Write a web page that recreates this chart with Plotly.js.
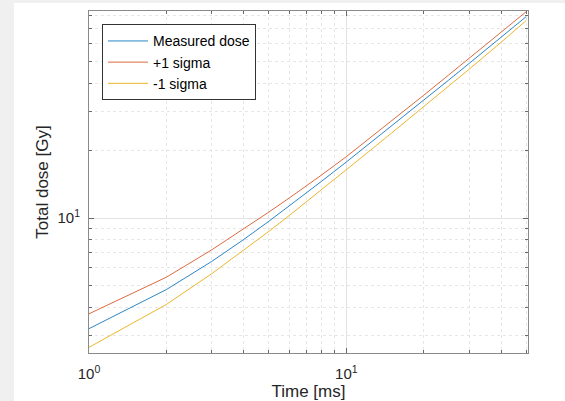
<!DOCTYPE html>
<html>
<head>
<meta charset="utf-8">
<script src="https://cdn.plot.ly/plotly-3.0.1.min.js"></script>
<style>
  html, body { margin: 0; padding: 0; background: #f0f0f0; width: 565px; height: 401px; overflow: hidden; }
  #chart { position: absolute; left: 14px; top: 3px; width: 551px; height: 398px; background: #ffffff; }
</style>
</head>
<body>
<div id="chart"></div>
<script>
// Time [ms]
const timeMs = [1, 2, 3, 4, 5, 6, 7, 8, 10, 12, 15, 20, 25, 30, 40, 50];
// Total dose [Gy]
const measuredDose = [3.21, 4.80, 6.41, 8.04, 9.68, 11.32, 12.95, 14.58, 17.80, 21.01, 25.76, 33.57, 41.32, 49.0, 64.2, 79.3];
const plusSigma    = [3.74, 5.45, 7.22, 8.96, 10.64, 12.29, 13.92, 15.55, 18.80, 22.15, 27.14, 35.37, 43.54, 51.63, 67.66, 83.44];
const minusSigma   = [2.65, 4.12, 5.65, 7.19, 8.73, 10.27, 11.82, 13.36, 16.44, 19.47, 23.99, 31.44, 38.82, 46.16, 61.0, 76.2];
const seriesNames = ["Measured dose", "+1 sigma", "-1 sigma"];

const xMajor = [1, 10];
const xMajorText = ["10<sup>0</sup>", "10<sup>1</sup>"];
const xMinor = [2, 3, 4, 5, 6, 7, 8, 9, 20, 30, 40, 50];
const yMajor = [10];
const yMajorText = ["10<sup>1</sup>"];
const yMinor = [3, 4, 5, 6, 7, 8, 9, 20, 30, 40, 50, 60, 70, 80];

const colors = ["#2a86c8", "#dc6a40", "#ecb62c"];
const font = "Liberation Sans, Arial, Helvetica, sans-serif";

const traces = [measuredDose, plusSigma, minusSigma].map((ys, i) => ({
  x: timeMs, y: ys, type: "scatter", mode: "lines", name: seriesNames[i],
  line: { color: colors[i], width: 1 }
}));

const axisCommon = {
  type: "log",
  showline: true, linecolor: "#8a8a8a", linewidth: 1, mirror: "allticks",
  ticks: "inside", ticklen: 5, tickcolor: "#6a6a6a", tickwidth: 1,
  showgrid: true, gridcolor: "#e2e2e2", gridwidth: 1,
  zeroline: false, tickmode: "array",
  tickfont: { family: font, size: 15, color: "#262626" }
};

const layout = {
  width: 551, height: 398,
  margin: { l: 75, r: 37, t: 8, b: 48 },
  paper_bgcolor: "#ffffff", plot_bgcolor: "#ffffff",
  showlegend: true,
  xaxis: Object.assign({}, axisCommon, {
    range: [0, Math.log10(50.8)],
    tickvals: xMajor, ticktext: xMajorText,
    ticklabelstandoff: 7,
    minor: { tickmode: "array", tickvals: xMinor, ticks: "inside", ticklen: 3, tickcolor: "#6a6a6a",
             showgrid: true, gridcolor: "#e6e6e6", griddash: "dot", gridwidth: 1 },
    title: { text: "Time [ms]", font: { family: font, size: 17, color: "#262626" }, standoff: 8 }
  }),
  yaxis: Object.assign({}, axisCommon, {
    range: [Math.log10(2.5), Math.log10(84)],
    tickvals: yMajor, ticktext: yMajorText,
    ticklabelstandoff: 5,
    minor: { tickmode: "array", tickvals: yMinor, ticks: "inside", ticklen: 3, tickcolor: "#6a6a6a",
             showgrid: true, gridcolor: "#e6e6e6", griddash: "dot", gridwidth: 1 },
    title: { text: "Total dose [Gy]", font: { family: font, size: 17, color: "#262626" }, standoff: 4 }
  }),
  legend: {
    x: 0.0296, y: 0.961, xanchor: "left", yanchor: "top",
    bgcolor: "#ffffff", bordercolor: "#333333", borderwidth: 1,
    font: { family: font, size: 14, color: "#000000" },
    itemwidth: 40, tracegroupgap: 0
  }
};

Plotly.newPlot("chart", traces, layout, { displayModeBar: false, staticPlot: true });
</script>
</body>
</html>
